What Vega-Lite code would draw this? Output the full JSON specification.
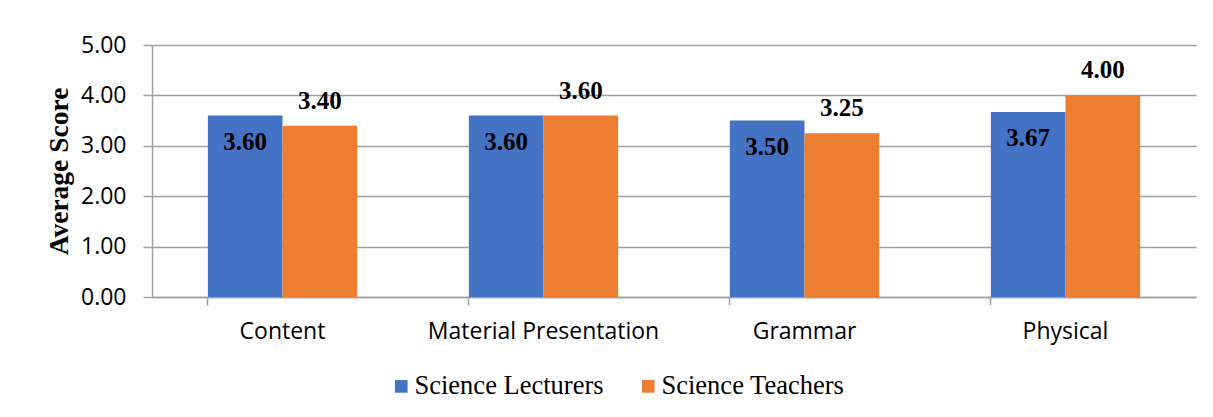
{
  "$schema": "https://vega.github.io/schema/vega-lite/v6.json",
  "width": 1044,
  "height": 252,
  "autosize": {"type": "none"},
  "padding": {"left": 152, "top": 45, "right": 17, "bottom": 120},
  "background": "white",
  "config": {
    "view": {"stroke": null},
    "axis": {
      "labelFont": "Open Sans",
      "labelFontSize": 23,
      "labelColor": "#000000",
      "domainColor": "#a0a0a0",
      "domainWidth": 1.5,
      "tickColor": "#a0a0a0",
      "tickWidth": 1.5,
      "gridColor": "#a0a0a0",
      "gridWidth": 1.5
    }
  },
  "data": {
    "values": [
      {"category": "Content", "group": "Science Lecturers", "score": 3.60},
      {"category": "Content", "group": "Science Teachers", "score": 3.40},
      {"category": "Material Presentation", "group": "Science Lecturers", "score": 3.60},
      {"category": "Material Presentation", "group": "Science Teachers", "score": 3.60},
      {"category": "Grammar", "group": "Science Lecturers", "score": 3.50},
      {"category": "Grammar", "group": "Science Teachers", "score": 3.25},
      {"category": "Physical", "group": "Science Lecturers", "score": 3.67},
      {"category": "Physical", "group": "Science Teachers", "score": 4.00}
    ]
  },
  "encoding": {
    "x": {
      "field": "category",
      "type": "nominal",
      "sort": ["Content", "Material Presentation", "Grammar", "Physical"],
      "scale": {"paddingInner": 0.428, "paddingOuter": 0.214},
      "axis": {
        "title": null,
        "labelAngle": 0,
        "bandPosition": 0,
        "tickSize": 8,
        "labelPadding": 15,
        "labelLimit": 500,
        "grid": false
      }
    },
    "xOffset": {"field": "group", "type": "nominal", "scale": {"paddingInner": 0}},
    "y": {
      "field": "score",
      "type": "quantitative",
      "scale": {"domain": [0, 5], "nice": false},
      "axis": {
        "title": "Average Score",
        "titleFont": "Liberation Serif",
        "titleFontWeight": "bold",
        "titleFontSize": 27.5,
        "titleColor": "#000000",
        "titlePadding": 7,
        "values": [0, 1, 2, 3, 4, 5],
        "format": ".2f",
        "tickSize": 9,
        "labelPadding": 17,
        "grid": true
      }
    }
  },
  "layer": [
    {
      "mark": {"type": "bar"},
      "encoding": {
        "color": {
          "field": "group",
          "type": "nominal",
          "scale": {"domain": ["Science Lecturers", "Science Teachers"], "range": ["#4472C4", "#ED7D31"]},
          "legend": {
            "title": null,
            "orient": "none",
            "direction": "horizontal",
            "legendX": 236,
            "legendY": 328,
            "symbolType": "square",
            "symbolSize": 160,
            "symbolStrokeWidth": 0,
            "labelFont": "Liberation Serif",
            "labelFontSize": 26.5,
            "labelColor": "#000000",
            "labelOffset": 0,
            "columnPadding": 31,
            "labelLimit": 400
          }
        }
      }
    },
    {
      "transform": [{"filter": "datum.group === 'Science Lecturers'"}],
      "mark": {"type": "text", "baseline": "middle", "dy": 26, "font": "Liberation Serif", "fontWeight": "bold", "fontSize": 25, "color": "#000000"},
      "encoding": {"text": {"field": "score", "type": "quantitative", "format": ".2f"}}
    },
    {
      "transform": [{"filter": "datum.group === 'Science Teachers'"}],
      "mark": {"type": "text", "baseline": "middle", "dy": -25, "font": "Liberation Serif", "fontWeight": "bold", "fontSize": 25, "color": "#000000"},
      "encoding": {"text": {"field": "score", "type": "quantitative", "format": ".2f"}}
    }
  ]
}
